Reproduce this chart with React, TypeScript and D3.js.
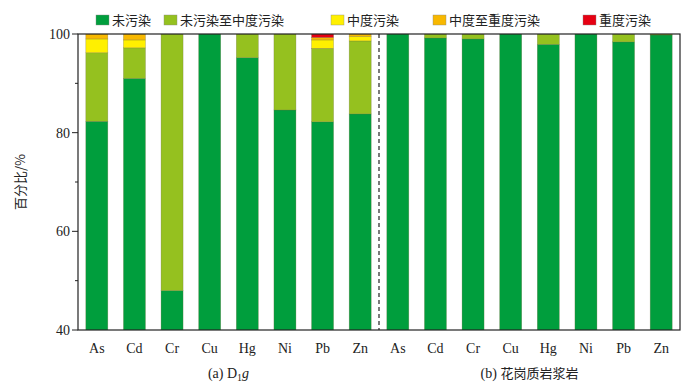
import React from "react";
import * as d3 from "d3";

const elements = ["As", "Cd", "Cr", "Cu", "Hg", "Ni", "Pb", "Zn"];
const seriesNames = ["未污染", "未污染至中度污染", "中度污染", "中度至重度污染", "重度污染"];
const seriesColors = ["#009e3d", "#95c11f", "#fff000", "#f8b800", "#e60012"];

// group (a) D1g
const aClean = [82.3, 91.0, 48.0, 100, 95.2, 84.6, 82.2, 83.8];
const aLight = [13.9, 6.2, 52.0, 0, 4.8, 15.4, 14.9, 14.8];
const aMid = [2.8, 1.6, 0, 0, 0, 0, 1.7, 0.9];
const aMidHeavy = [1.0, 1.2, 0, 0, 0, 0, 0.5, 0.5];
const aHeavy = [0, 0, 0, 0, 0, 0, 0.7, 0];
// group (b) granite
const bClean = [100, 99.2, 99.0, 100, 97.9, 100, 98.4, 99.8];
const bLight = [0, 0.8, 1.0, 0, 2.1, 0, 1.6, 0.2];
const bMid = [0, 0, 0, 0, 0, 0, 0, 0];
const bMidHeavy = [0, 0, 0, 0, 0, 0, 0, 0];
const bHeavy = [0, 0, 0, 0, 0, 0, 0, 0];

const yTicks = [40, 60, 80, 100];
const yMinor = [50, 70, 90];

const W = 699, H = 383;
const M = { left: 78, right: 19, top: 34, bottom: 53 };

export default function App() {
  const rows = [
    ...elements.map((e, i) => ({ key: "a" + i, label: e, v: [aClean[i], aLight[i], aMid[i], aMidHeavy[i], aHeavy[i]] })),
    ...elements.map((e, i) => ({ key: "b" + i, label: e, v: [bClean[i], bLight[i], bMid[i], bMidHeavy[i], bHeavy[i]] })),
  ];
  const x = d3.scaleBand<string>().domain(rows.map(r => r.key)).range([M.left, W - M.right]).paddingInner(0.415).paddingOuter(0.2075);
  const y = d3.scaleLinear().domain([40, 100]).range([H - M.bottom, M.top]);
  const stackData = rows.map(r => {
    const o: any = { key: r.key };
    seriesNames.forEach((s, i) => (o[s] = r.v[i]));
    return o;
  });
  const stacked = d3.stack<any>().keys(seriesNames)(stackData);
  const serif = "'Liberation Serif', 'Times New Roman', 'Noto Sans CJK SC', serif";
  const cjk = "'Noto Sans CJK SC', 'Liberation Serif', serif";
  const x0 = M.left, x1 = W - M.right, yb = H - M.bottom, yt = M.top;
  const step = x.step();
  const divX = x("b0")! - (step - x.bandwidth()) / 2;

  const legendX = [96, 164, 331, 433, 583];

  return (
    <svg width={W} height={H} style={{ position: "absolute", left: 0, top: 0 }}>
      <defs>
        <clipPath id="plot"><rect x={x0} y={yt} width={x1 - x0} height={yb - yt} /></clipPath>
      </defs>
      <g clipPath="url(#plot)">
        {stacked.map((s, si) => (
          <g key={si} fill={seriesColors[si]}>
            {s.map((d, i) => {
              const h = y(d[0]) - y(d[1]);
              if (h <= 0) return null;
              return (
                <rect key={i} x={x(rows[i].key)} y={y(d[1])} width={x.bandwidth()} height={h}
                  stroke="#6b6b3a" strokeOpacity={0.45} strokeWidth={0.6} />
              );
            })}
          </g>
        ))}
      </g>
      {/* frame */}
      <rect x={x0} y={yt} width={x1 - x0} height={yb - yt} fill="none" stroke="#222" strokeWidth={1.2} />
      <line x1={divX} x2={divX} y1={yt} y2={yb} stroke="#222" strokeWidth={1.2} strokeDasharray="4,3" />
      {/* y ticks */}
      {yTicks.map(t => (
        <g key={t}>
          <line x1={x0 - 6} x2={x0} y1={y(t)} y2={y(t)} stroke="#222" strokeWidth={1} />
          <text x={x0 - 8} y={y(t)} dy="0.35em" textAnchor="end" fontFamily={serif} fontSize={14} fill="#222">{t}</text>
        </g>
      ))}
      {yMinor.map(t => (
        <line key={t} x1={x0 - 3} x2={x0} y1={y(t)} y2={y(t)} stroke="#222" strokeWidth={1} />
      ))}
      <text transform={`translate(20,${(yt + yb) / 2}) rotate(-90)`} textAnchor="middle" dy="0.35em" fontFamily={cjk} fontSize={13} fill="#222">百分比/%</text>
      {/* x labels */}
      {rows.map(r => (
        <text key={r.key} x={x(r.key)! + x.bandwidth() / 2} y={353} textAnchor="middle" fontFamily={serif} fontSize={14} fill="#222">{r.label}</text>
      ))}
      <text x={(x0 + divX) / 2} y={378} textAnchor="middle" fontFamily={serif} fontSize={14} fill="#222">
        (a) D<tspan fontSize={10} dy={3}>1</tspan><tspan dy={-3} fontStyle="italic">g</tspan>
      </text>
      <text x={(divX + x1) / 2} y={378} textAnchor="middle" fontFamily={serif} fontSize={14} fill="#222">
        (b) <tspan fontFamily={cjk} fontSize={13}>花岗质岩浆岩</tspan>
      </text>
      {/* legend */}
      {seriesNames.map((s, i) => (
        <g key={s}>
          <rect x={legendX[i]} y={15} width={13} height={10} fill={seriesColors[i]} stroke="#888" strokeWidth={0.4} />
          <text x={legendX[i] + 16} y={20} dy="0.35em" fontFamily={cjk} fontSize={13} fill="#222">{s}</text>
        </g>
      ))}
    </svg>
  );
}
